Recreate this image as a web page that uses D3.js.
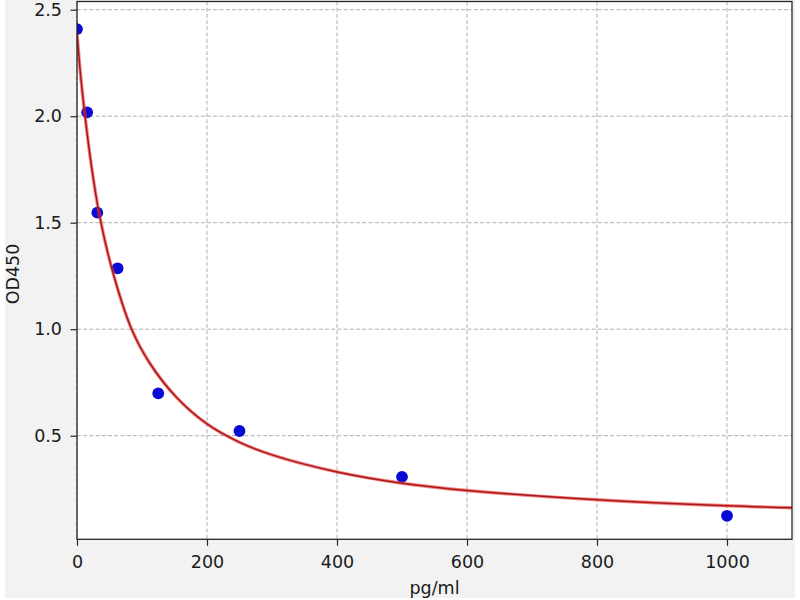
<!DOCTYPE html>
<html>
<head>
<meta charset="utf-8">
<script src="https://cdn.jsdelivr.net/npm/d3@7/dist/d3.min.js"></script>
<style>
  html, body { margin: 0; padding: 0; background: #ffffff; }
  svg { display: block; }
  text { font-family: "DejaVu Sans", sans-serif; fill: #1a1a1a; }
</style>
</head>
<body>
<svg id="chart" width="800" height="600"></svg>
<script>
// ---- data ----
const concentrations = [0, 15.6, 31.25, 62.5, 125, 250, 500, 1000];
const odValues = [2.409, 2.018, 1.547, 1.286, 0.699, 0.522, 0.307, 0.124];

// fitted curve
const curveX = [0, 5.6, 12, 22.5, 34, 54, 84, 112, 153, 200, 248, 300, 400, 500, 600, 800, 1000, 1100];
const curveY = [2.39, 2.19, 2.01, 1.76, 1.545, 1.28, 1.0, 0.84, 0.68, 0.555, 0.472, 0.41, 0.33, 0.277, 0.243, 0.199, 0.171, 0.162];

const xTicks = [0, 200, 400, 600, 800, 1000];
const yTicks = [0.5, 1.0, 1.5, 2.0, 2.5];
const xLabel = "pg/ml";
const yLabel = "OD450";

// ---- layout ----
const FS = 17.5;
const svg = d3.select("#chart");
const plot = { left: 77, right: 792, top: 1.5, bottom: 539.3 };

svg.append("rect").attr("x", 5).attr("y", 0).attr("width", 790).attr("height", 598)
  .attr("fill", "#f2f2f2");
svg.append("rect").attr("x", plot.left).attr("y", plot.top)
  .attr("width", plot.right - plot.left).attr("height", plot.bottom - plot.top)
  .attr("fill", "#ffffff");

const x = d3.scaleLinear().domain([0, 1100]).range([plot.left, plot.right]);
const y = d3.scaleLinear().domain([0.0136, 2.5385]).range([plot.bottom, plot.top]);

// grid
const grid = svg.append("g").attr("stroke", "#b0b0b0").attr("stroke-width", 1)
  .attr("stroke-dasharray", "4,2.2");
grid.selectAll("line.gx").data(xTicks).join("line")
  .attr("x1", d => x(d)).attr("x2", d => x(d))
  .attr("y1", plot.top).attr("y2", plot.bottom);
grid.selectAll("line.gy").data(yTicks).join("line")
  .attr("x1", plot.left).attr("x2", plot.right)
  .attr("y1", d => y(d)).attr("y2", d => y(d));

// clip
svg.append("clipPath").attr("id", "clip").append("rect")
  .attr("x", plot.left).attr("y", plot.top)
  .attr("width", plot.right - plot.left).attr("height", plot.bottom - plot.top);

const content = svg.append("g").attr("clip-path", "url(#clip)");

// points
const pts = concentrations.map((c, i) => ({ x: c, y: odValues[i] }));
content.selectAll("circle").data(pts).join("circle")
  .attr("cx", d => x(d.x)).attr("cy", d => y(d.y)).attr("r", 5.9)
  .attr("fill", "#0a0ad6");

// curve
const cpts = curveX.map((c, i) => [c, curveY[i]]);
const line = d3.line().x(d => x(d[0])).y(d => y(d[1])).curve(d3.curveCatmullRom.alpha(0.5));
content.append("path").attr("d", line(cpts)).attr("fill", "none")
  .attr("stroke", "#ec3434").attr("stroke-width", 3.4).attr("stroke-opacity", 0.6);
content.append("path").attr("d", line(cpts)).attr("fill", "none")
  .attr("stroke", "#a81818").attr("stroke-width", 1.5);

// axes
const xAxis = d3.axisBottom(x).tickValues(xTicks).tickSize(6.5).tickPadding(9.5)
  .tickFormat(d3.format("d"));
const gx = svg.append("g").attr("transform", `translate(0,${plot.bottom})`).call(xAxis);
const yAxis = d3.axisLeft(y).tickValues(yTicks).tickSize(6.5).tickPadding(8.5)
  .tickFormat(d3.format(".1f"));
const gy = svg.append("g").attr("transform", `translate(${plot.left},0)`).call(yAxis);
[gx, gy].forEach(g => {
  g.attr("font-size", FS).attr("font-family", "'DejaVu Sans', sans-serif");
  g.select(".domain").remove();
  g.selectAll(".tick line").attr("stroke", "#262626").attr("stroke-width", 1.2);
  g.selectAll(".tick text").attr("fill", "#1a1a1a");
});

// frame
svg.append("rect").attr("x", plot.left).attr("y", plot.top)
  .attr("width", plot.right - plot.left).attr("height", plot.bottom - plot.top)
  .attr("fill", "none").attr("stroke", "#262626").attr("stroke-width", 1.3);

// labels
svg.append("text").attr("x", (plot.left + plot.right) / 2).attr("y", 594)
  .attr("text-anchor", "middle").attr("font-size", FS).text(xLabel);
svg.append("text").attr("transform", `translate(19,274) rotate(-90)`)
  .attr("text-anchor", "middle").attr("font-size", FS).text(yLabel);
</script>
</body>
</html>
